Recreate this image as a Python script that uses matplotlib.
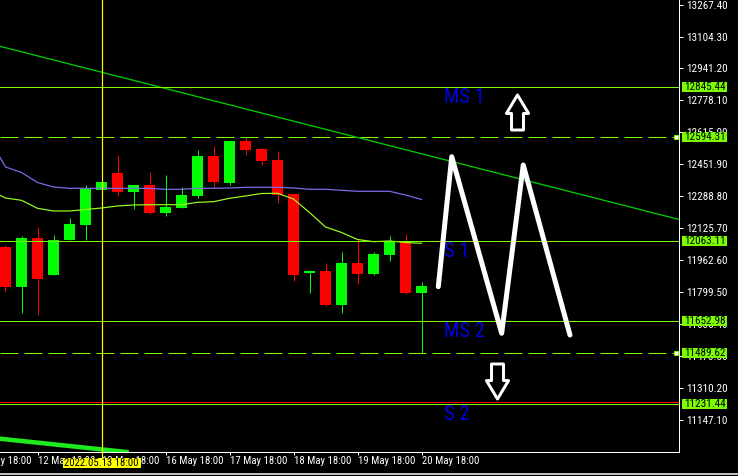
import matplotlib
matplotlib.use('Agg')
import matplotlib.pyplot as plt
from matplotlib import font_manager
from matplotlib.font_manager import FontProperties
from matplotlib.textpath import TextPath
from matplotlib.path import Path
from matplotlib.patches import Rectangle
from matplotlib.lines import Line2D
from matplotlib.transforms import blended_transform_factory, offset_copy
import numpy as np

plt.rcParams['font.family'] = ['Liberation Sans', 'DejaVu Sans']
plt.rcParams['lines.scale_dashes'] = False

# ---------------- data ----------------
opens = [12032.9, 11829.1, 12077.3, 11888.7, 12067.0, 12143.5, 12321.9, 12408.6, 12313.3, 12347.4,
         12204.7, 12230.2, 12291.3, 12495.2, 12357.6, 12571.6, 12530.9, 12474.8, 12301.5, 11898.9,
         11909.1, 11735.8, 11949.8, 11893.8, 11990.6, 12056.9, 11797.0]
highs = [12041.6, 12087.5, 12133.3, 12092.6, 12179.2, 12347.4, 12362.7, 12500.3, 12347.4, 12413.7,
         12398.4, 12337.2, 12525.7, 12546.1, 12576.7, 12592.0, 12536.0, 12520.7, 12301.5, 11914.2,
         11949.8, 12005.9, 12072.2, 12005.9, 12087.5, 12097.7, 11853.0]
lows = [11808.7, 11693.5, 11684.8, 11888.7, 12067.0, 12067.0, 12321.9, 12291.3, 12225.1, 12199.6,
        12189.4, 12230.2, 12281.1, 12332.1, 12347.4, 12501.9, 12449.3, 12255.7, 11858.1, 11797.0,
        11730.7, 11695.0, 11842.8, 11888.7, 11960.0, 11791.9, 11491.2]
closes = [11829.1, 12075.7, 11869.8, 12067.0, 12148.5, 12327.0, 12362.7, 12313.3, 12347.4, 12204.7,
          12235.3, 12296.4, 12495.2, 12362.7, 12571.6, 12527.3, 12469.7, 12296.4, 11888.7, 11909.1,
          11735.8, 11949.8, 11893.8, 11995.7, 12062.0, 11797.0, 11832.6]

ma_index = list(range(-1, 27))
ma_slow = [12581.9, 12439.2, 12411.2, 12360.2, 12337.2, 12330.6, 12330.6, 12330.6, 12330.6, 12330.6,
           12330.0, 12325.5, 12325.5, 12330.6, 12330.6, 12332.1, 12335.7, 12335.7, 12335.7, 12332.1,
           12325.5, 12325.5, 12320.4, 12315.3, 12315.3, 12315.3, 12296.5, 12273.6]
ma_fast = [12321.9, 12281.1, 12269.4, 12228.6, 12214.9, 12214.9, 12222.5, 12230.2, 12240.4, 12245.5,
           12247.0, 12247.0, 12247.0, 12259.2, 12262.3, 12279.6, 12291.3, 12304.1, 12305.1, 12276.0,
           12207.3, 12133.4, 12105.4, 12069.7, 12058.5, 12062.0, 12054.4, 12050.3]

trend_pts = [(0, 13047.2), (40, 12215.4)]
trend2_pts = [(0, 11051.3), (10, 10965.6)]

level_values = [12845.44, 12594.31, 12063.11, 11652.98, 11489.62, 11231.44]
level_dashed = [False, True, False, False, True, False]
level_labels = ['MS 1', None, 'S 1', 'MS 2', None, 'S 2']
label_x = 27.41

zz_x = [27.05, 27.89, 31.01, 32.36, 35.28]
zz_y = [11829.1, 12491.7, 11591.6, 12449.3, 11582.9]

arrow_up = (31.94, 12719.5)
arrow_dn = (30.72, 11345.9)

vline_x = 6
vline_label = '2022.05.13 18:00'

y_ticks = [13267.40, 13104.30, 12941.20, 12778.10, 12615.00, 12451.90, 12288.80, 12125.70,
           11962.60, 11799.50, 11636.40, 11473.30, 11310.20, 11147.10]
x_ticks = [-2, 2, 6, 10, 14, 18, 22, 26]
x_tick_labels = ['11 May 18:00', '12 May 18:00', '13 May 18:00', '16 May 18:00', '17 May 18:00',
                 '18 May 18:00', '19 May 18:00', '20 May 18:00']

# ---------------- layout ----------------
W, H, DPI = 738, 476, 100
AXW, AXH = 679, 452
PT = 72 / DPI
XMIN, XMAX = -0.34375, 42.09375
YMIN, YMAX = 10986.51, 13290.34
px_x = (XMAX - XMIN) / AXW
px_y = (YMAX - YMIN) / AXH

# ---------- font choice: a narrow sans if one is installed ----------
BASES = ('Liberation Sans', 'DejaVu Sans', 'Roboto', 'Open Sans', 'Noto Sans', 'Lato', 'Inter')
candidates = []
for f in font_manager.fontManager.ttflist:
    n = f.name
    for b in BASES:
        if n == b or (n.startswith(b + ' ') and ('Narrow' in n or 'Condensed' in n)):
            if f.style == 'normal' and (f.weight in ('normal', 'regular', 400) or f.weight == 400):
                candidates.append(f.fname)
            break
candidates = sorted(set(candidates))[:40]


def pick_font(sample, target_w, target_h):
    target = target_w / target_h
    best = None
    for fn in candidates:
        try:
            fp = FontProperties(fname=fn)
            ext = TextPath((0, 0), sample, size=100, prop=fp).get_extents()
        except Exception:
            continue
        if ext.height <= 0 or ext.width <= 0:
            continue
        score = abs(np.log((ext.width / ext.height) / target))
        if best is None or score < best[0]:
            best = (score, fn, ext.width)
    if best is None:
        fp = FontProperties(family='Liberation Sans')
        ext = TextPath((0, 0), sample, size=100, prop=fp).get_extents()
        return fp, 100 * target_w / ext.width
    return FontProperties(fname=best[1]), 100 * target_w / best[2]


fp_axis, axis_px = pick_font('13267.40', 36.3, 8.0)
fp_lab, lab_px = pick_font('MS 1', 31.7, 13.3)


def fprop(base, size_px):
    p = base.copy()
    p.set_size(size_px * PT)
    return p


FP_AX = fprop(fp_axis, axis_px * 1.1)
FP_XL = fprop(fp_axis, axis_px * 1.06)
FP_LAB = fprop(fp_lab, lab_px * 1.12)

LEVEL_C = '#7CFC00'
fig = plt.figure(figsize=(W / DPI, H / DPI), dpi=DPI, facecolor='black')
ax = fig.add_axes([0, 1 - AXH / H, AXW / W, AXH / H], facecolor='black')
ax.set_xlim(XMIN, XMAX)
ax.set_ylim(YMIN, YMAX)

for s in ['top', 'left']:
    ax.spines[s].set_visible(False)
for s in ['right', 'bottom']:
    ax.spines[s].set_color('white')
    ax.spines[s].set_linewidth(PT)

ax.yaxis.tick_right()
ax.set_yticks(y_ticks)
ax.set_yticklabels(['%.2f' % v for v in y_ticks])
ax.tick_params(axis='y', colors='white', length=4 * PT, width=PT, pad=3 * PT)
for t in ax.get_yticklabels():
    t.set_fontproperties(FP_AX)
ax.set_xticks([t for t in x_ticks if XMIN <= t <= XMAX])
ax.tick_params(axis='x', colors='white', length=3 * PT, width=PT, labelbottom=False)

# candles
idx = np.arange(len(opens))
o = np.array(opens); c = np.array(closes)
cols = ['#00FF00' if cc >= oo else '#FF0000' for oo, cc in zip(o, c)]
ax.vlines(idx, lows, highs, colors=cols, lw=PT, zorder=2)
ax.bar(idx, c - o, bottom=o, width=11 / 16, color=cols, lw=0, zorder=3)

# moving averages
ax.plot(ma_index, ma_slow, color='#7B6FEE', lw=1.2 * PT, zorder=4)
ax.plot(ma_index, ma_fast, color='#9CFF1A', lw=1.2 * PT, zorder=4)

# trend lines (infinite lines through two anchor points, clipped by the axes)
ax.axline(trend_pts[0], trend_pts[1], color='#00CC00', lw=1.3 * PT, zorder=4)
ax.axline(trend2_pts[0], trend2_pts[1], color='#1EEB1E', lw=4.5 * PT, zorder=4)

# horizontal levels
trans_b = blended_transform_factory(ax.transAxes, ax.transData)
for v, d, lab in zip(level_values, level_dashed, level_labels):
    if d:
        ax.plot([0, 1], [v, v], transform=trans_b, color=LEVEL_C, lw=PT, dashes=(18 * PT, 6 * PT), zorder=5)
        ax.plot([676 / AXW], [v], transform=trans_b, marker='s', ms=5 * PT, mfc='white',
                mec=LEVEL_C, mew=PT, clip_on=False, zorder=8)
    else:
        ax.plot([0, 1], [v, v], transform=trans_b, color=LEVEL_C, lw=PT, zorder=5)
    if lab:
        ax.text(label_x, v, lab, color='#0000E6', fontproperties=FP_LAB, va='top', ha='left',
                zorder=6, transform=offset_copy(ax.transData, fig, y=-1, units='dots'))
    # price box on the axis
    ax.add_patch(Rectangle((682 / AXW, v - 5 * px_y), 45 / AXW, 10 * px_y, transform=trans_b,
                           fc=LEVEL_C, ec='none', clip_on=False, zorder=9))
    ax.text(704.5 / AXW, v, '%.2f' % v, transform=trans_b, color='black', fontproperties=FP_AX,
            ha='center', va='center', clip_on=False, zorder=10)
# red line on S2
ax.plot([0, 1], [level_values[-1]] * 2, color='#FF0000', lw=1.1 * PT, zorder=6,
        transform=offset_copy(trans_b, fig, y=1.5, units='dots'))

# vertical line
ax.axvline(vline_x, ymin=-6 / AXH, color='#FFFF00', lw=1.2 * PT, clip_on=False, zorder=6)

# x labels
trans_x = blended_transform_factory(ax.transData, ax.transAxes)
for t, lab in zip(x_ticks, x_tick_labels):
    ax.text(t, -(461.5 - AXH) / AXH, lab, transform=trans_x, color='white', fontproperties=FP_XL,
            ha='left', va='center', clip_on=False, zorder=7)
ax.add_patch(Rectangle((vline_x - 39 * px_x, -(468 - AXH) / AXH), 78 * px_x, 10 / AXH,
                       transform=trans_x, fc='#FFFF00', ec='none', clip_on=False, zorder=8))
ax.text(vline_x, -(463 - AXH) / AXH, vline_label, transform=trans_x, color='black',
        fontproperties=FP_XL, ha='center', va='center', clip_on=False, zorder=9)

# zigzag
ax.plot(zz_x, zz_y, color='white', lw=5 * PT, solid_capstyle='round', solid_joinstyle='round',
        zorder=7)

# hollow arrows
up_path = Path([(0, 19), (12, -1), (6.5, -1), (6.5, -19), (-6.5, -19), (-6.5, -1), (-12, -1), (0, 19)],
               [Path.MOVETO] + [Path.LINETO] * 6 + [Path.CLOSEPOLY])
dn_path = Path([(x, -y) for x, y in up_path.vertices], up_path.codes)
ax.plot([arrow_up[0]], [arrow_up[1]], marker=up_path, ms=35 * PT, mfc='black', mec='white',
        mew=3 * PT, zorder=7, linestyle='none')
ax.plot([arrow_dn[0]], [arrow_dn[1]], marker=dn_path, ms=35 * PT, mfc='black', mec='white',
        mew=3 * PT, zorder=7, linestyle='none')

# window bottom border
fig.add_artist(Line2D([0, 1], [1 - 473.7 / H] * 2, transform=fig.transFigure, color='white', lw=1.5 * PT))

fig.savefig('out.png', dpi=DPI, facecolor='black')
